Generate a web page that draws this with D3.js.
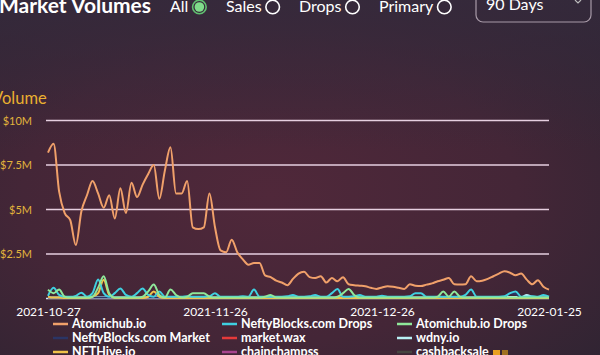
<!DOCTYPE html>
<html><head><meta charset="utf-8">
<script src="https://cdn.jsdelivr.net/npm/d3@7"></script>
<style>html,body{margin:0;padding:0;background:#3a2a3a;overflow:hidden}svg{display:block}</style>
</head><body><svg id="c" width="600" height="355"></svg>
<script>
// ---- data ----
const startDate = "2021-10-27";
const tickDates = ["2021-10-27","2021-11-26","2021-12-26","2022-01-25"];
const yTicks = [2500000, 5000000, 7500000, 10000000];
const tickLabels = ["$2.5M","$5M","$7.5M","$10M"];
// values in millions of USD, one per day
const atomichub = [8.2,8.7,6.0,4.8,4.4,3.0,4.9,5.8,6.6,5.9,5.1,5.8,4.5,6.2,4.8,6.5,5.7,6.4,7.0,7.5,5.6,7.2,8.5,5.9,5.9,6.6,4.0,3.9,4.0,5.9,4.0,2.7,2.6,3.3,2.6,2.2,1.9,2.0,2.0,1.3,1.2,1.0,0.9,0.75,1.1,1.4,1.5,1.2,1.15,1.25,0.9,1.15,0.97,1.2,0.8,0.75,0.72,0.69,0.6,0.54,0.62,0.69,0.66,0.6,0.54,0.8,0.72,0.7,0.78,0.85,0.97,1.05,1.15,0.8,0.78,0.8,1.25,0.97,1.0,1.1,1.25,1.4,1.53,1.45,1.3,1.4,1.06,0.8,1.03,0.66,0.5];
const neftyDrops = [0.15,0.6,0.2,0.1,0.1,0.15,0.33,0.1,0.3,1.07,0.3,0.1,0.3,0.56,0.2,0.1,0.3,0.56,0.2,0.1,0.4,0.1,0.1,0.1,0.1,0.12,0.1,0.1,0.1,0.12,0.3,0.1,0.1,0.1,0.1,0.12,0.1,0.5,0.1,0.1,0.1,0.1,0.1,0.12,0.2,0.1,0.1,0.12,0.2,0.1,0.1,0.3,0.54,0.1,0.1,0.12,0.2,0.1,0.1,0.1,0.15,0.1,0.1,0.1,0.1,0.12,0.3,0.3,0.1,0.1,0.1,0.1,0.1,0.1,0.1,0.2,0.5,0.1,0.1,0.1,0.1,0.1,0.12,0.3,0.4,0.1,0.1,0.12,0.1,0.2,0.1];
const atomicDrops = [0.5,0.3,0.5,0.1,0.05,0.05,0.05,0.05,0.1,0.6,1.25,0.3,0.05,0.05,0.05,0.05,0.05,0.1,0.4,0.78,0.2,0.05,0.5,0.2,0.05,0.1,0.3,0.3,0.3,0.1,0.05,0.05,0.05,0.05,0.05,0.05,0.05,0.05,0.05,0.1,0.2,0.05,0.05,0.05,0.05,0.05,0.05,0.05,0.05,0.05,0.05,0.05,0.1,0.3,0.54,0.2,0.05,0.05,0.05,0.05,0.05,0.05,0.05,0.05,0.05,0.05,0.05,0.05,0.05,0.05,0.1,0.4,0.1,0.4,0.1,0.05,0.05,0.05,0.05,0.05,0.05,0.05,0.05,0.05,0.05,0.05,0.05,0.05,0.05,0.05,0.05];
const nftHive = [0.1,0.05,0.05,0.03,0.03,0.03,0.03,0.03,0.1,0.3,1.05,0.2,0.03,0.03,0.03,0.03,0.03,0.03,0.1,0.4,0.1,0.03,0.03,0.03,0.03,0.03,0.03,0.03,0.03,0.03,0.03,0.03,0.03,0.03,0.03,0.03,0.03,0.03,0.03,0.03,0.03,0.03,0.03,0.03,0.03,0.03,0.03,0.03,0.03,0.03,0.03,0.03,0.03,0.03,0.03,0.03,0.03,0.03,0.03,0.03,0.03,0.03,0.03,0.03,0.03,0.03,0.03,0.03,0.03,0.03,0.03,0.03,0.03,0.03,0.03,0.03,0.03,0.03,0.03,0.03,0.03,0.03,0.03,0.03,0.03,0.03,0.03,0.03,0.03,0.03,0.03];
const neftyMarket = [0.05,0.05,0.05,0.05,0.05,0.05,0.05,0.05,0.05,0.05,0.05,0.05,0.05,0.05,0.05,0.05,0.05,0.05,0.05,0.05,0.05,0.05,0.05,0.05,0.05,0.05,0.05,0.05,0.05,0.05,0.05,0.05,0.05,0.05,0.05,0.05,0.05,0.05,0.05,0.05,0.05,0.05,0.05,0.05,0.05,0.05,0.05,0.05,0.05,0.05,0.05,0.05,0.05,0.05,0.05,0.05,0.05,0.05,0.05,0.05,0.05,0.05,0.05,0.05,0.05,0.05,0.05,0.05,0.05,0.05,0.05,0.05,0.05,0.05,0.05,0.05,0.05,0.05,0.05,0.05,0.05,0.05,0.1,0.3,0.25,0.05,0.05,0.05,0.05,0.05,0.05];
const wdny = [0.08,0.08,0.08,0.08,0.08,0.08,0.08,0.08,0.08,0.08,0.08,0.08,0.08,0.08,0.08,0.08,0.08,0.08,0.08,0.08,0.08,0.08,0.08,0.08,0.08,0.08,0.08,0.08,0.08,0.08,0.08,0.08,0.08,0.08,0.08,0.08,0.08,0.08,0.08,0.08,0.08,0.08,0.08,0.08,0.08,0.08,0.08,0.08,0.08,0.08,0.08,0.08,0.08,0.08,0.08,0.08,0.08,0.08,0.08,0.08,0.08,0.08,0.08,0.08,0.08,0.08,0.08,0.08,0.08,0.08,0.08,0.08,0.08,0.08,0.08,0.08,0.08,0.08,0.08,0.08,0.08,0.08,0.08,0.08,0.08,0.08,0.2,0.1,0.08,0.08,0.08];
const seriesNames = ["Atomichub.io","NeftyBlocks.com Drops","Atomichub.io Drops","NeftyBlocks.com Market","market.wax","wdny.io","NFTHive.io","chainchampss","cashbacksale"];
const seriesColors = ["#f0a06a","#3fd0e0","#8fe89a","#2b3566","#e53a3a","#b8f0f4","#f0c24a","#a8448e","#454540"];
const radioLabels = ["All","Sales","Drops","Primary"];

// ---- drawing ----
const FONT = "Lato, 'Open Sans', sans-serif";
const svg = d3.select("#c");
const W = 600, H = 355;
const defs = svg.append("defs");
const g1 = defs.append("radialGradient").attr("id","bg").attr("cx","0.45").attr("cy","0.55").attr("r","0.75");
g1.append("stop").attr("offset","0").attr("stop-color","#50283a");
g1.append("stop").attr("offset","0.55").attr("stop-color","#442637");
g1.append("stop").attr("offset","1").attr("stop-color","#2e2432");
svg.append("rect").attr("width",W).attr("height",H).attr("fill","url(#bg)");
const g2 = defs.append("linearGradient").attr("id","top").attr("x1",0).attr("y1",0).attr("x2",0).attr("y2",1);
g2.append("stop").attr("offset","0").attr("stop-color","#352a3c").attr("stop-opacity",0.85);
g2.append("stop").attr("offset","1").attr("stop-color","#352a3c").attr("stop-opacity",0);
svg.append("rect").attr("width",W).attr("height",150).attr("fill","url(#top)");

const parse = d3.timeParse("%Y-%m-%d");
const t0 = parse(startDate);
const dates = atomichub.map((_, i) => d3.timeDay.offset(t0, i));
const x = d3.scaleTime().domain([t0, dates[dates.length-1]]).range([48, 549]);
const y = d3.scaleLinear().domain([0, 10000000]).range([298.5, 120.5]);

// y axis labels + grid
const gy = svg.append("g")
  .call(d3.axisLeft(y).tickValues(yTicks).tickSize(0).tickFormat((d,i)=>tickLabels[i]));
gy.select(".domain").remove();
gy.selectAll("text").attr("x",32).attr("fill","#e2b43c").attr("font-family",FONT).attr("font-size","11px");
svg.append("g").selectAll("line").data(yTicks).join("line")
  .attr("x1",46).attr("x2",549).attr("y1",d=>y(d)).attr("y2",d=>y(d))
  .attr("stroke","#e6cfe0").attr("stroke-width",1.6);

// x axis
const gx = svg.append("g").attr("transform","translate(0,298.5)")
  .call(d3.axisBottom(x).tickValues(tickDates.map(parse)).tickSize(0).tickFormat(d3.timeFormat("%Y-%m-%d")));
gx.select(".domain").attr("stroke","#d8e6f0").attr("stroke-width",1.6).attr("d","M46,0H549");
gx.selectAll("text").attr("y",9).attr("fill","#ffffff").attr("font-family",FONT).attr("font-size","12px");

const seriesData = [atomichub, neftyDrops, atomicDrops, neftyMarket, null, wdny, nftHive, null, null];
const line = d3.line().x((d,i)=>x(dates[i])).y(d=>y(d*1e6)).curve(d3.curveMonotoneX);
const drawOrder = [5,3,6,1,2,0];
drawOrder.forEach(k => {
  svg.append("path").datum(seriesData[k]).attr("d",line).attr("fill","none")
    .attr("stroke",seriesColors[k]).attr("stroke-width",2).attr("stroke-linejoin","round");
});

// y label
svg.append("text").attr("x",-8).attr("y",104).text("Volume").attr("fill","#eab030")
  .attr("font-family",FONT).attr("font-size","16.5px");

// title
svg.append("text").attr("x",-1).attr("y",13).text("Market Volumes").attr("fill","#ffffff")
  .attr("font-family",FONT).attr("font-weight","bold").attr("font-size","21px");

// radios
const radioX = [170, 226, 299, 379];
radioLabels.forEach((l,i)=>{
  const t = svg.append("text").attr("x",radioX[i]).attr("y",12).text(l).attr("fill","#ffffff")
    .attr("font-family",FONT).attr("font-size","16px");
  const cx = radioX[i] + t.node().getComputedTextLength() + 11;
  svg.append("circle").attr("cx",cx).attr("cy",7).attr("r",6.8).attr("fill","none")
    .attr("stroke", i===0 ? "#60c070" : "#ffffff").attr("stroke-width",1.6);
  if(i===0) svg.append("circle").attr("cx",cx).attr("cy",7).attr("r",4.8).attr("fill","#7fdc8a");
});

// dropdown
svg.append("rect").attr("x",476).attr("y",-10).attr("width",115).attr("height",32).attr("rx",7)
  .attr("fill","none").attr("stroke","#a89aa8").attr("stroke-width",1.2);
svg.append("text").attr("x",486).attr("y",10).text("90 Days").attr("fill","#ffffff")
  .attr("font-family",FONT).attr("font-size","16px");
svg.append("path").attr("d","M575,0 L578,3 L581,0").attr("fill","none").attr("stroke","#bbb").attr("stroke-width",1.2);

// legend
const colX = [53, 222, 397];
const rowY = [328, 342, 356];
seriesNames.forEach((n,i)=>{
  const cx = colX[i%3], ry = rowY[Math.floor(i/3)];
  svg.append("line").attr("x1",cx).attr("x2",cx+15).attr("y1",ry-4).attr("y2",ry-4)
    .attr("stroke",seriesColors[i]).attr("stroke-width",2.5);
  svg.append("text").attr("x",cx+19).attr("y",ry).text(n).attr("fill","#ffffff")
    .attr("font-family",FONT).attr("font-weight","bold").attr("font-size","12.5px");
});
svg.append("rect").attr("x",493).attr("y",350).attr("width",7).attr("height",6).attr("fill","#e8a020");
svg.append("rect").attr("x",502).attr("y",350).attr("width",6).attr("height",6).attr("fill","#a07020");
</script></body></html>
